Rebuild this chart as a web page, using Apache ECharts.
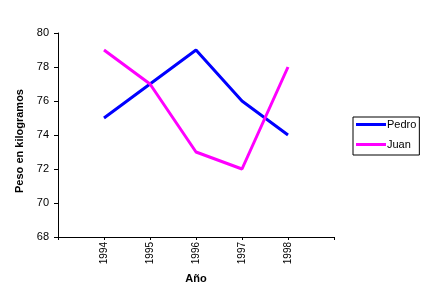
<!DOCTYPE html>
<html><head><meta charset="utf-8">
<script src="https://cdn.jsdelivr.net/npm/echarts@6/dist/echarts.min.js"></script>
<style>html,body{margin:0;padding:0;background:#fff}#c{width:427px;height:302px}</style>
</head><body><div id="c"></div>
<script>
const categories = ['', '1994', '1995', '1996', '1997', '1998', ''];
const pedro = [null, 75, 77, 79, 76, 74, null];
const juan = [null, 79, 77, 73, 72, 78, null];
const yTicks = { min: 68, max: 80, interval: 2 };

const chart = echarts.init(document.getElementById('c'), null, {renderer: 'canvas'});
const font = 'Liberation Sans, Arial, sans-serif';
chart.setOption({
  animation: false,
  backgroundColor: '#fff',
  grid: { left: 58, top: 33, right: 93, bottom: 65 },
  legend: {
    orient: 'vertical', left: 353, top: 117,
    borderColor: '#000', borderWidth: 1,
    padding: [2, 3, 5, 3],
    itemWidth: 30, itemHeight: 3, itemGap: 9,
    textStyle: { fontFamily: font, fontSize: 11, color: '#000', padding: [0, 0, 0, -4] },
    data: [{ name: 'Pedro', icon: 'rect' }, { name: 'Juan', icon: 'rect' }]
  },
  xAxis: {
    type: 'category', data: categories, boundaryGap: false,
    name: 'Año', nameLocation: 'middle', nameGap: 36,
    nameTextStyle: { fontFamily: font, fontSize: 11, fontWeight: 'bold', color: '#000' },
    axisLine: { lineStyle: { color: '#000', width: 1 } },
    axisTick: { show: true, inside: false, length: 3, lineStyle: { color: '#000' },
      interval: 0 },
    axisLabel: { rotate: 90, fontFamily: font, fontSize: 10, color: '#000', margin: 5, interval: 0 },
    splitLine: { show: false }
  },
  yAxis: {
    type: 'value', min: yTicks.min, max: yTicks.max, interval: yTicks.interval,
    name: 'Peso en kilogramos', nameLocation: 'middle', nameGap: 27, nameRotate: 90,
    nameTextStyle: { fontFamily: font, fontSize: 11, fontWeight: 'bold', color: '#000',
      padding: [0, 12, 0, 0] },
    axisLine: { show: true, lineStyle: { color: '#000', width: 1 } },
    axisTick: { show: true, length: 4, lineStyle: { color: '#000' } },
    axisLabel: { fontFamily: font, fontSize: 11, color: '#000', margin: 9 },
    splitLine: { show: false }
  },
  series: [
    { name: 'Pedro', type: 'line', data: pedro, showSymbol: false, symbol: 'none',
      lineStyle: { color: '#0000ff', width: 3 }, itemStyle: { color: '#0000ff' } },
    { name: 'Juan', type: 'line', data: juan, showSymbol: false, symbol: 'none',
      lineStyle: { color: '#ff00ff', width: 3 }, itemStyle: { color: '#ff00ff' } }
  ]
});
</script></body></html>
